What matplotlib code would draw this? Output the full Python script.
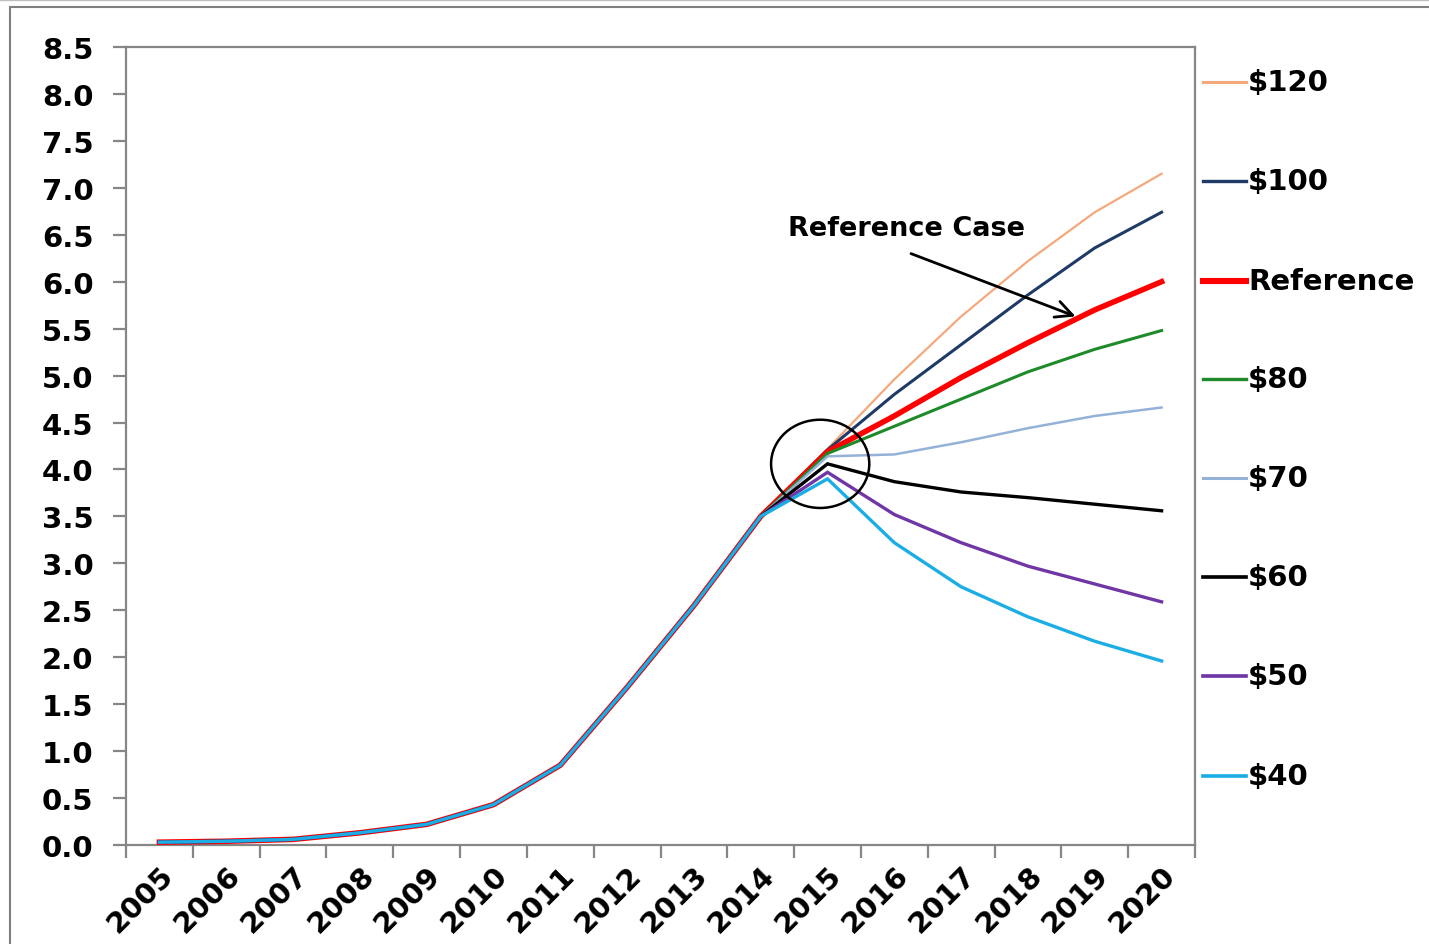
import matplotlib
matplotlib.use("Agg")
import matplotlib.pyplot as plt
from matplotlib.lines import Line2D
from matplotlib.patches import Ellipse, Rectangle
import numpy as np

plt.rcParams['font.family'] = ['DejaVu Sans']
plt.rcParams['font.weight'] = 'bold'

# ---- data -------------------------------------------------------------
years = ['2005', '2006', '2007', '2008', '2009', '2010', '2011', '2012',
         '2013', '2014', '2015', '2016', '2017', '2018', '2019', '2020']

# shared history 2005-2014
history = [0.03, 0.04, 0.06, 0.13, 0.22, 0.43, 0.85, 1.68, 2.55, 3.50]

# 2015-2020 paths by price case
p120 = [4.22, 4.96, 5.63, 6.22, 6.74, 7.15]
p100 = [4.21, 4.80, 5.33, 5.86, 6.36, 6.74]
ref = [4.19, 4.57, 4.98, 5.35, 5.70, 6.00]
p80 = [4.17, 4.46, 4.75, 5.04, 5.28, 5.48]
p70 = [4.14, 4.16, 4.29, 4.44, 4.57, 4.66]
p60 = [4.06, 3.87, 3.76, 3.70, 3.63, 3.56]
p50 = [3.97, 3.52, 3.22, 2.97, 2.78, 2.59]
p40 = [3.90, 3.22, 2.75, 2.43, 2.17, 1.96]

labels = ['$120', '$100', 'Reference', '$80', '$70', '$60', '$50', '$40']
paths = [p120, p100, ref, p80, p70, p60, p50, p40]
colors = ['#F4A97C', '#1F3A66', '#FF0000', '#1E8A2A', '#94B1D8',
          '#000000', '#7136A6', '#1BADE3']
widths = [1.6, 2.2, 4.0, 2.2, 1.8, 2.4, 2.4, 2.4]

yticks = np.arange(0, 8.51, 0.5)

# ---- figure ------------------------------------------------------------
W, H = 1429, 945
fig = plt.figure(figsize=(W / 100, H / 100), dpi=100)
ax = fig.add_axes([126 / W, 1 - 846 / H, (1195 - 126) / W, (846 - 48) / H])

x = np.arange(len(years))
for lab, path, col, lw in zip(labels, paths, colors, widths):
    ax.plot(x, history + path, color=col, lw=lw, solid_joinstyle='miter',
            label=lab, zorder=3)

ax.set_xlim(-0.5, len(years) - 0.5)
ax.set_ylim(0, 8.5)

gray = '#868686'
for s in ax.spines.values():
    s.set_color(gray)
    s.set_linewidth(1.6)

ax.set_yticks(yticks)
ax.set_yticklabels([f'{v:.1f}' for v in yticks], fontsize=21, fontweight='bold')
ax.tick_params(axis='y', direction='out', length=9.4, width=1.6, color=gray,
               pad=14)

# category boundaries carry the tick marks, centres carry the labels
ax.set_xticks(np.arange(-0.5, len(years), 1.0), minor=True)
ax.set_xticks(x)
ax.set_xticklabels(years, fontsize=21, fontweight='bold', rotation=45,
                   ha='right', va='top', rotation_mode='anchor')
ax.tick_params(axis='x', which='major', length=0, pad=11)
ax.tick_params(axis='x', which='minor', direction='out', length=9,
               width=1.6, color=gray)

# circle around the 2015 branching point
ax.add_patch(Ellipse((9.89, 4.06), 1.47, 0.94, fill=False, ec='black',
                     lw=1.8, zorder=5))

# arrow pointing to the reference path
ax.annotate('', xy=(13.75, 5.62), xytext=(11.21, 6.31),
            arrowprops=dict(arrowstyle='->', color='black', lw=2.0,
                            mutation_scale=30), zorder=6)
ax.text(11.18, 6.57, 'Reference Case', ha='center', va='center',
        fontsize=19.5, fontweight='bold', zorder=6)

# legend to the right of the plot area
leg_y = [83, 182, 282, 380, 479, 578, 677, 777]
for lab, col, lw, yy in zip(labels, colors, widths, leg_y):
    fy = 1 - yy / H
    fig.add_artist(Line2D([1203 / W, 1246 / W], [fy, fy], color=col,
                          lw=max(lw, 2.0) * 1.1, transform=fig.transFigure))
    fig.text(1248 / W, fy, lab, ha='left', va='center', fontsize=21,
             fontweight='bold')

# outer frame
fig.add_artist(Rectangle((10 / W, -0.1), 1.2, 1 - 8 / H + 0.1,
                         transform=fig.transFigure, fill=False,
                         ec='#7f7f7f', lw=1.5))
fig.add_artist(Line2D([0, 1], [1 - 0.5 / H, 1 - 0.5 / H], color='#bfbfbf',
                      lw=1.0, transform=fig.transFigure))

fig.savefig('out.png', dpi=100)
